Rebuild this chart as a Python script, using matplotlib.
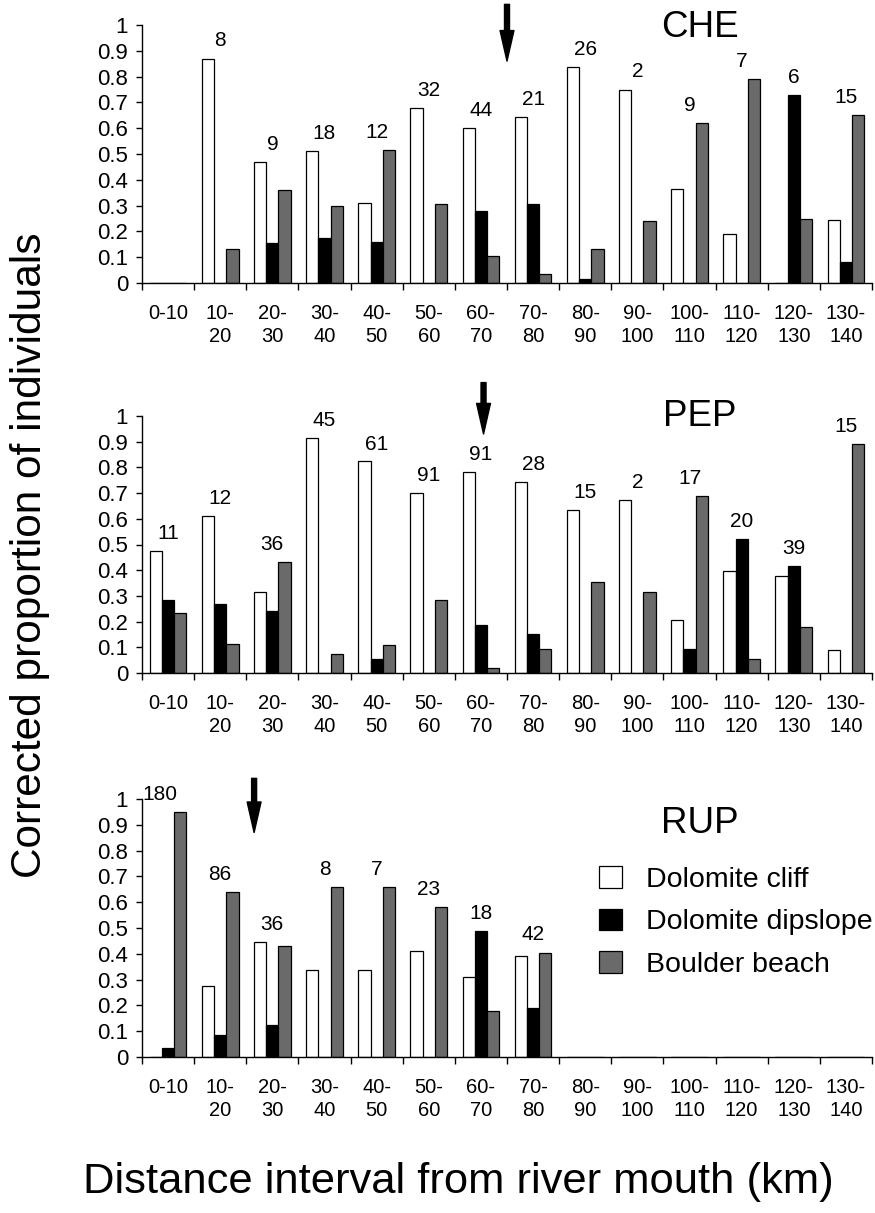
import matplotlib
matplotlib.use("Agg")
import matplotlib.pyplot as plt
import numpy as np

plt.rcParams['font.family'] = ['Liberation Sans', 'DejaVu Sans']

intervals = ["0-10", "10-\n20", "20-\n30", "30-\n40", "40-\n50", "50-\n60", "60-\n70",
             "70-\n80", "80-\n90", "90-\n100", "100-\n110", "110-\n120", "120-\n130", "130-\n140"]
series_names = ["Dolomite cliff", "Dolomite dipslope", "Boulder beach"]

# CHE
che_cliff    = [0, 0.87, 0.47, 0.51, 0.31, 0.68, 0.60, 0.645, 0.837, 0.75, 0.364, 0.19, 0, 0.244]
che_dipslope = [0, 0, 0.155, 0.175, 0.16, 0, 0.28, 0.305, 0.015, 0, 0, 0, 0.73, 0.08]
che_boulder  = [0, 0.13, 0.36, 0.30, 0.515, 0.305, 0.105, 0.035, 0.13, 0.24, 0.62, 0.79, 0.248, 0.65]
che_n = ["", "8", "9", "18", "12", "32", "44", "21", "26", "2", "9", "7", "6", "15"]

# PEP
pep_cliff    = [0.476, 0.612, 0.314, 0.916, 0.823, 0.702, 0.781, 0.745, 0.635, 0.672, 0.205, 0.395, 0.378, 0.09]
pep_dipslope = [0.285, 0.27, 0.243, 0, 0.056, 0, 0.186, 0.15, 0, 0, 0.093, 0.52, 0.415, 0]
pep_boulder  = [0.235, 0.114, 0.433, 0.075, 0.11, 0.285, 0.02, 0.095, 0.355, 0.315, 0.69, 0.055, 0.178, 0.89]
pep_n = ["11", "12", "36", "45", "61", "91", "91", "28", "15", "2", "17", "20", "39", "15"]

# RUP
rup_cliff    = [0, 0.276, 0.446, 0.336, 0.336, 0.41, 0.31, 0.39, 0, 0, 0, 0, 0, 0]
rup_dipslope = [0.035, 0.084, 0.125, 0, 0, 0, 0.49, 0.19, 0, 0, 0, 0, 0, 0]
rup_boulder  = [0.948, 0.64, 0.43, 0.66, 0.66, 0.58, 0.18, 0.405, 0, 0, 0, 0, 0, 0]
rup_n = ["180", "86", "36", "8", "7", "23", "18", "42", "", "", "", "", "", ""]

panel_names = ["CHE", "PEP", "RUP"]
arrow_km = [70, 65.5, 21.5]

panels = [
    (che_cliff, che_dipslope, che_boulder, che_n),
    (pep_cliff, pep_dipslope, pep_boulder, pep_n),
    (rup_cliff, rup_dipslope, rup_boulder, rup_n),
]

colors = ["white", "black", "#6a6a6a"]

fig = plt.figure(figsize=(8.75, 12.13), dpi=100)
W, H = 875, 1213
ax_rects = [(142, 283, 25), (142, 673, 416), (142, 1057, 799)]

bw = 0.235
offs = [-bw, 0, bw]
n_groups = len(intervals)
xc = np.arange(n_groups) + 0.5
yt = np.round(np.arange(0, 1.01, 0.1), 1)

for i, ((cl, dp, bb, nn), (lx, y0, y1)) in enumerate(zip(panels, ax_rects)):
    ax = fig.add_axes([lx / W, 1 - y0 / H, 730 / W, (y0 - y1) / H])
    handles = []
    for vals, off, col, name in zip((cl, dp, bb), offs, colors, series_names):
        v = np.array(vals, dtype=float)
        h = ax.bar(xc + off, v, width=bw, color=col, edgecolor="black", linewidth=0.9,
                   label=name)
        handles.append(h)
    for k in range(n_groups):
        if nn[k]:
            top = max(cl[k], dp[k], bb[k])
            xk = xc[k] - (0.15 if top + 0.065 > 0.98 and k == 0 else 0)
            ax.text(xk, top + 0.068, nn[k], ha="center", va="center", fontsize=15,
                    clip_on=False)
    ax.set_xlim(0, n_groups)
    ax.set_ylim(0, 1)
    ax.set_xticks(np.arange(n_groups + 1))
    ax.set_xticklabels([])
    ax.set_xticks(xc, minor=True)
    ax.set_xticklabels(intervals, minor=True, fontsize=14.5, linespacing=1.25)
    ax.tick_params(axis="x", which="major", length=5, width=1, direction="out")
    ax.tick_params(axis="x", which="minor", length=0, pad=15)
    ax.set_yticks(yt)
    ax.set_yticklabels(["%g" % t for t in yt], fontsize=16)
    ax.tick_params(axis="y", length=4, width=1, direction="out", pad=6)
    for s in ("top", "right"):
        ax.spines[s].set_visible(False)
    for s in ("left", "bottom"):
        ax.spines[s].set_linewidth(1.0)
    ax.text(0.764, [0.99, 1.0, 0.905][i], panel_names[i], transform=ax.transAxes,
            ha="center", va="center", fontsize=26.5)
    # arrows
    ax_top = [1.08, 1.13, 1.08][i]
    ax_tip = [0.86, 0.93, 0.87][i]
    ax.annotate("", xy=(arrow_km[i] / 10, ax_tip), xytext=(arrow_km[i] / 10, ax_top),
                arrowprops=dict(arrowstyle="simple,head_length=1.1,head_width=0.5,tail_width=0.18",
                                color="black", shrinkA=0, shrinkB=0, mutation_scale=20),
                annotation_clip=False)
    if i == 2:
        ax.legend(handles=handles, labels=series_names, loc="upper left",
                  bbox_to_anchor=(0.626, 0.74), frameon=False, fontsize=20.5,
                  handlelength=0.8, handleheight=0.8, handletextpad=0.85,
                  labelspacing=0.55, borderpad=0, borderaxespad=0)

fig.text(30 / W, 1 - 555 / H, "Corrected proportion of individuals", rotation=90,
         ha="center", va="center", fontsize=30.5)
fig.text(458 / W, 1 - 1182 / H, "Distance interval from river mouth (km)",
         ha="center", va="center", fontsize=31.3)

fig.savefig("out.png", dpi=100)
